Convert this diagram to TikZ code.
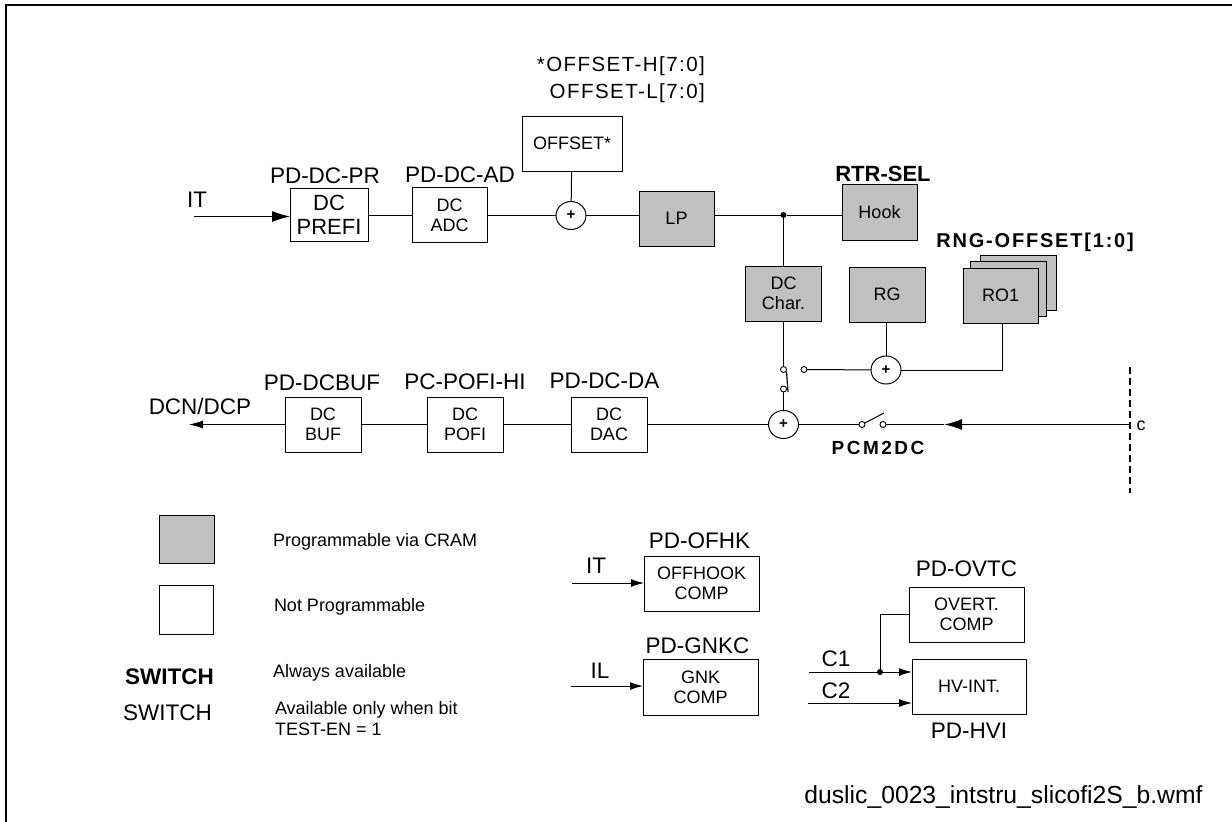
\documentclass[tikz,border=0pt]{standalone}
\usepackage{fontspec}
\setmainfont{Liberation Sans}
\newfontfamily\spacedfont[LetterSpace=7]{Liberation Sans}
\newfontfamily\widefont[LetterSpace=9]{Liberation Sans}
\newfontfamily\widerfont[LetterSpace=13]{Liberation Sans}
\usetikzlibrary{positioning,calc,arrows.meta,shapes.geometric}
\tikzset{
  block/.style     = {rectangle,draw,inner sep=0pt,outer sep=0pt,align=center,line width=1pt,
                      font=\fontsize{18}{20}\selectfont},
  plainblock/.style= {block,fill=white},
  progblock/.style = {block,fill=progfill},
  title/.style     = {inner sep=0pt,outer sep=0pt,font=\fontsize{22.5}{24}\selectfont},
  note/.style      = {inner sep=0pt,outer sep=0pt,align=left,font=\fontsize{18}{21}\selectfont},
  sum/.style       = {ellipse,draw,fill=white,inner sep=0pt,outer sep=0pt,line width=1pt,
                      minimum width=30pt,minimum height=28pt,font=\bfseries\fontsize{15}{15}\selectfont},
  terminal/.style  = {circle,draw,fill=white,inner sep=0pt,outer sep=0pt,minimum size=6pt,line width=.9pt},
  junction/.style  = {circle,fill=black,inner sep=0pt,outer sep=0pt,minimum size=6pt},
  wire/.style      = {line width=1pt},
  bigtip/.style    = {-{Latex[length=18pt,width=11pt]}},
  smalltip/.style  = {-{Latex[length=13pt,width=8pt]}}
}
\definecolor{progfill}{HTML}{C0C0C0}
\newcommand{\DrawBlock}[6]{%
  % name, style, centre, width, height, text
  \node[#2,minimum width=#4pt,minimum height=#5pt] (#1) at #3 {#6};
}
\begin{document}
\begin{tikzpicture}[x=1pt,y=-1pt]
    \useasboundingbox (0,0) rectangle (1232,822);

    % frame
    \coordinate (frametop) at (1232,5);
    \coordinate (framecorner) at (6,5);
    \coordinate (framebottom) at (6,822);
    \draw[line width=1.3pt] (frametop) -- (framecorner) -- (framebottom);

    % upper row
    \DrawBlock{prefi}{plainblock,font=\fontsize{22}{24}\selectfont}{(329,215)}{78}{53}{DC\\PREFI}
    \DrawBlock{adc}{plainblock}{(449.5,215)}{75}{55}{DC\\ADC}
    \DrawBlock{offset}{plainblock}{(572,143.5)}{100}{55}{OFFSET*}
    \DrawBlock{lp}{progblock}{(676.5,218.5)}{75}{55}{LP}
    \DrawBlock{hook}{progblock}{(879.5,212)}{75}{56}{Hook}
    \DrawBlock{dcchar}{progblock}{(783.5,293.5)}{76}{55}{DC\\Char.}
    \DrawBlock{rg}{progblock}{(887,294.5)}{76}{55}{RG}
    \DrawBlock{roback}{progblock}{(1018,282.5)}{76}{55}{}
    \DrawBlock{romid}{progblock}{(1008,288.5)}{76}{55}{}
    \DrawBlock{rofirst}{progblock}{(1000.5,295.5)}{75}{55}{RO1}
    \node[sum] (sumtop) at (571,215.5) {+};
    \node[junction] (split) at (783.5,215) {};
    \node[sum] (sumrg) at (886,370) {+};

    \node[title] (itlabel) at (197,200) {IT};
    \coordinate (itin) at (194,216.5);
    \draw[wire,bigtip] (itin) -- (itin -| prefi.west);
    \draw[wire] (prefi) -- (adc);
    \draw[wire] (adc.east |- sumtop) -- (sumtop);
    \draw[wire] (offset) -- (sumtop);
    \draw[wire] (sumtop) -- (sumtop -| lp.west);
    \draw[wire] (split -| lp.east) -- (split);
    \draw[wire] (split) -- (split -| hook.west);
    \draw[wire] (split) -- (dcchar);
    \draw[wire] (rg.south -| sumrg) -- (sumrg);
    \draw[wire] (rofirst.south -| 1002,0) |- (sumrg);

    % titles of the upper row
    \node[title,above=5pt of prefi,xshift=-4pt] (prefititle) {PD-DC-PR};
    \node[title,above=5pt of adc,xshift=10.5pt] (adctitle) {PD-DC-AD};
    \node[title,above=2pt of hook,xshift=3.5pt,font=\bfseries\fontsize{22}{24}\selectfont] (hooktitle) {RTR-SEL};
    \node[inner sep=0pt,anchor=east,font=\widefont\bfseries\fontsize{20}{22}\selectfont] (rotitle) at (1134,242) {RNG-OFFSET[1:0]};
    \node[inner sep=0pt,anchor=east,align=right,font=\spacedfont\fontsize{20.5}{27}\selectfont] (offsettitle) at (705,79.5) {*OFFSET-H[7:0]\\OFFSET-L[7:0]};

    % lower row
    \DrawBlock{dcbuf}{plainblock}{(323,424.5)}{76}{55}{DC\\BUF}
    \DrawBlock{pofi}{plainblock}{(465,424.5)}{76}{55}{DC\\POFI}
    \DrawBlock{dac}{plainblock}{(609,424.5)}{76}{55}{DC\\DAC}
    \node[sum] (summain) at (783.5,424.5) {+};
    \node[terminal] (tapper) at (783.5,369.5) {};
    \node[terminal] (taplower) at (783.5,389) {};
    \node[terminal] (tapright) at (804,369.5) {};
    \node[terminal] (pcmleft) at (862,424.5) {};
    \node[terminal] (pcmright) at (883,424.5) {};
    \coordinate (tapblade) at (788,392);
    \coordinate (tapbladetop) at (786.5,371.5);
    \coordinate (pcmblade) at (884,413);
    \coordinate (dashtop) at (1130,367);
    \coordinate (dashbottom) at (1130,493);
    \coordinate (dashhit) at (1130,424.5);
    \coordinate (thickend) at (985,424.5);
    \coordinate (mainhead) at (944,424.5);
    \coordinate (dcnout) at (189,424.5);

    \draw[wire] (dcchar) -- (tapper);
    \draw[wire] (taplower) -- (summain);
    \draw[wire] (tapright) -- (sumrg);
    \draw[wire] (pcmleft) -- (pcmblade);
    \draw[wire] (summain) -- (pcmleft);
    \draw[wire] (pcmright) -- (mainhead);
    \draw[line width=2.2pt,dash pattern=on 7pt off 4pt] (dashtop) -- (dashbottom);
    \draw[wire] (dashhit) -- (thickend);
    \draw[line width=1.6pt,bigtip] (thickend) -- (mainhead);
    \draw[wire] (summain) -- (dac);
    \draw[wire] (dac) -- (pofi);
    \draw[wire] (pofi) -- (dcbuf);
    \draw[wire,-{Latex[length=14pt,width=8pt]}] (dcbuf) -- (dcnout);
    \draw[line width=1.2pt] (tapbladetop) -- (tapblade);

    \node[title,above=6pt of dcbuf,xshift=-1pt] (dcbuftitle) {PD-DCBUF};
    \node[title,above=7pt of pofi] (pofititle) {PC-POFI-HI};
    \node[title,above=8pt of dac,xshift=-4.5pt] (dactitle) {PD-DC-DA};
    \node[title] (dcnlabel) at (200,406) {DCN/DCP};
    \node[inner sep=0pt,font=\widerfont\bfseries\fontsize{19}{20}\selectfont] (pcmtitle) at (878,448) {PCM2DC};
    \node[inner sep=0pt,font=\fontsize{18}{20}\selectfont] (clabel) at (1141,426) {c};

    % key
    \DrawBlock{keyprog}{progblock}{(186.5,539)}{55}{48}{}
    \DrawBlock{keyplain}{plainblock}{(186,609.5)}{54}{49}{}
    \node[note,anchor=west] (keyprogtext) at (273,542) {Programmable via CRAM};
    \node[note,anchor=west] (keyplaintext) at (274,607) {Not Programmable};
    \node[note,anchor=west] (alwaystext) at (273,673) {Always available};
    \node[note,anchor=west] (testtext) at (275,718.5) {Available only when bit\\TEST-EN = 1};
    \node[title,font=\bfseries\fontsize{22.5}{24}\selectfont] (switchbold) at (169.5,677) {SWITCH};
    \node[title] (switchplain) at (167.5,713) {SWITCH};

    % comparators
    \DrawBlock{offhook}{plainblock}{(701.5,583.5)}{115}{55}{OFFHOOK\\COMP}
    \DrawBlock{gnk}{plainblock}{(700.5,687)}{115}{56}{GNK\\COMP}
    \DrawBlock{overt}{plainblock}{(966.5,614.5)}{115}{55}{OVERT.\\COMP}
    \DrawBlock{hvint}{plainblock}{(969,686.5)}{114}{55}{HV-INT.}
    \node[title,above=7pt of offhook,xshift=-2pt] (offhooktitle) {PD-OFHK};
    \node[title,above=5pt of gnk,xshift=-3pt] (gnktitle) {PD-GNKC};
    \node[title,above=10pt of overt] (overttitle) {PD-OVTC};
    \node[title,below=9pt of hvint] (hvinttitle) {PD-HVI};

    \coordinate (itcomp) at (572,583);
    \coordinate (ilcomp) at (571,686);
    \coordinate (cone) at (809,672);
    \coordinate (ctwo) at (808,703);
    \node[title] (itcomplabel) at (596,566) {IT};
    \node[title] (ilcomplabel) at (600,671) {IL};
    \node[title] (conelabel) at (836,659) {C1};
    \node[title] (ctwolabel) at (836,691) {C2};
    \node[junction] (conesplit) at (880,672) {};
    \draw[wire,smalltip] (itcomp) -- (itcomp -| offhook.west);
    \draw[wire,smalltip] (ilcomp) -- (ilcomp -| gnk.west);
    \draw[wire,smalltip] (cone) -- (cone -| hvint.west);
    \draw[wire,smalltip] (ctwo) -- (ctwo -| hvint.west);
    \draw[wire] (conesplit) |- (overt.west);

    \node[title,font=\fontsize{24.7}{26}\selectfont] (filename) at (1003.5,797) {duslic\_0023\_intstru\_slicofi2S\_b.wmf};
\end{tikzpicture}
\end{document}
